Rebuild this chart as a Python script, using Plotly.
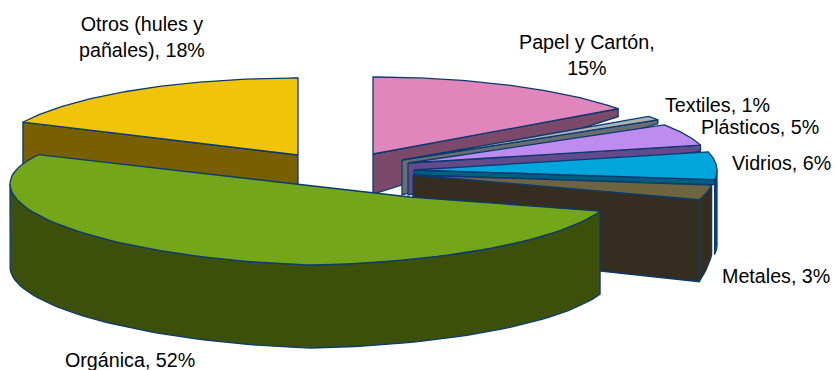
import numpy as np
import plotly.graph_objects as go

# Data
categories = ["Papel y Cartón", "Textiles", "Plásticos", "Vidrios", "Metales", "Orgánica", "Otros (hules y pañales)"]
values = [15, 1, 5, 6, 3, 52, 18]
label_text = ["Papel y Cartón,<br>15%", "Textiles, 1%", "Plásticos, 5%", "Vidrios, 6%", "Metales, 3%", "Orgánica, 52%", "Otros (hules y<br>pañales), 18%"]

# Presentation: one entry per slice, same order as the data
apex = [(373, 154), (402, 160), (408, 163), (414, 170), (413, 175), (410, 197), (298, 155)]
ell_c = [(373, 154), (402, 160), (408, 163), (414, 170), (413, 175), (310, 194), (298, 155)]
ell_r = [(303, 77), (303, 75), (302, 72), (303, 76), (301, 80), (300, 71), (304, 77)]
cut_depth = [(40, 8), (35, 4), (32, 6), (5, 5), (76, 82), (0, 0), (31, 43)]  # inner, outer
rim_depth = [None, None, None, (75, 75), (70, 82), (83, 83), None]
top_col = ["#E086BC", "#A9B1B3", "#BE8CF0", "#00A6DC", "#6F6440", "#74A61A", "#F0C408"]
side_col = ["#7B4A6A", "#686E70", "#634A8C", "#005F80", "#352E20", "#3C500C", "#786000"]
rim_col = ["#7B4A6A", "#686E70", "#634A8C", "#004A78", "#352E20", "#3C500C", "#786000"]
LINE = "#0A3A6E"
label_pos = [(587, 55, "center"), (663, 105, "left"), (699, 127, "left"), (730, 163, "left"),
             (720, 276, "left"), (63, 360, "left"), (142, 37, "center")]
draw_order = [6, 0, 1, 2, 3, 4, 5]

fractions = np.array(values, dtype=float) / sum(values)
edges = np.concatenate([[0], np.cumsum(fractions)]) * 360


def rim(i, a0, a1, n=80):
    a = np.radians(np.linspace(a0, a1, n))
    cx, cy = ell_c[i]
    rx, ry = ell_r[i]
    sa = np.sin(a)
    x = cx + rx * sa
    y = cy - ry * np.cos(a)
    if i == 5:  # the large front slice leans in the perspective view
        x = cx + np.where(sa > 0, 305, rx) * sa
        y = y - np.where(sa < 0, 10, 5) * np.abs(sa)
    return x, y


fig = go.Figure()


def poly(x, y, fill, name, line=LINE, width=1.3):
    fig.add_trace(go.Scatter(x=list(x), y=list(y), mode="lines", fill="toself", fillcolor=fill,
                             line=dict(color=line, width=width), name=name,
                             hoverinfo="name", showlegend=False))


for i in draw_order:
    a0, a1 = edges[i], edges[i + 1]
    name = categories[i]
    ax, ay = apex[i]
    # cut face at the slice's end (or start for the last slice)
    di, do = cut_depth[i]
    if di or do:
        ang = a0 if i == 6 else a1
        rx_, ry_ = rim(i, ang, ang, 1)
        px, py = rx_[0], ry_[0]
        poly([ax, px, px, ax, ax], [ay, py, py + do, ay + di, ay], side_col[i], name)
    # outer rim wall on the visible part of the curve
    if rim_depth[i] is not None:
        s0 = max(a0, 90)
        s1 = min(a1, 270)
        x, y = rim(i, s0, s1)
        d = np.linspace(rim_depth[i][0], rim_depth[i][1], len(x))
        poly(np.r_[x, x[::-1], x[0]], np.r_[y, (y + d)[::-1], y[0]], rim_col[i], name)
    # top surface
    x, y = rim(i, a0, a1)
    poly(np.r_[ax, x, ax], np.r_[ay, y, ay], top_col[i], name)

for i, txt in enumerate(label_text):
    lx, ly, al = label_pos[i]
    fig.add_annotation(x=lx, y=ly, text=txt, showarrow=False, align=al,
                       xanchor=al, yanchor="middle",
                       font=dict(family="Liberation Sans, Arial, sans-serif", size=19.7, color="#000000"))

fig.update_xaxes(range=[0, 835], visible=False, fixedrange=True)
fig.update_yaxes(range=[370, 0], visible=False, fixedrange=True)
fig.update_layout(width=835, height=370, margin=dict(l=0, r=0, t=0, b=0),
                  paper_bgcolor="white", plot_bgcolor="white", showlegend=False)
fig.write_html("out.html", config={"displayModeBar": False},
               post_script="document.body.style.margin='0';document.body.style.overflow='hidden';")
